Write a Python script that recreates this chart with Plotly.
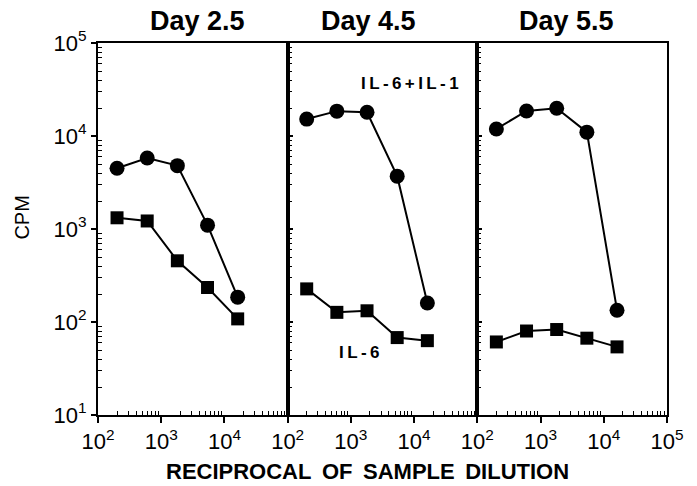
import plotly.graph_objects as go
from plotly.subplots import make_subplots

# Data
dilution = [200, 600, 1800, 5400, 16200]
days = ["Day 2.5", "Day 4.5", "Day 5.5"]
il6_il1 = [
    [4500, 5800, 4800, 1100, 185],
    [15200, 18500, 18000, 3700, 160],
    [11900, 18600, 19900, 11000, 134],
]
il6 = [
    [1320, 1220, 455, 235, 108],
    [227, 127, 132, 68, 63],
    [61, 80, 83, 67, 54],
]
x_tickvals = [1e2, 1e3, 1e4, 1e5]
x_ticktext = ["10<sup>2</sup>", "10<sup>3</sup>", "10<sup>4</sup>", "10<sup>5</sup>"]
y_tickvals = [1e1, 1e2, 1e3, 1e4, 1e5]
y_ticktext = ["10<sup>1</sup>", "10<sup>2</sup>", "10<sup>3</sup>", "10<sup>4</sup>", "10<sup>5</sup>"]

FONT = "Liberation Sans, Arial, Helvetica, sans-serif"

fig = make_subplots(rows=1, cols=3, shared_yaxes=True, horizontal_spacing=0)

for i in range(3):
    fig.add_trace(go.Scatter(
        x=dilution, y=il6_il1[i], mode="lines+markers",
        line=dict(color="black", width=2),
        marker=dict(symbol="circle", size=15, color="black"),
        showlegend=False, cliponaxis=False), row=1, col=i + 1)
    fig.add_trace(go.Scatter(
        x=dilution, y=il6[i], mode="lines+markers",
        line=dict(color="black", width=2),
        marker=dict(symbol="square", size=13, color="black"),
        showlegend=False, cliponaxis=False), row=1, col=i + 1)

minor_x = [m * 10 ** k for k in range(2, 5) for m in range(2, 10)]
minor_y = [m * 10 ** k for k in range(1, 5) for m in range(2, 10)]

for i in range(3):
    tv = x_tickvals if i == 2 else x_tickvals[:3]
    tt = x_ticktext if i == 2 else x_ticktext[:3]
    fig.update_xaxes(
        type="log", range=[2, 5], tickvals=tv, ticktext=tt,
        ticks="outside", ticklen=6, tickwidth=1.5, tickcolor="black",
        minor=dict(tickvals=minor_x, ticks="inside", ticklen=4, tickcolor="black", tickwidth=1),
        showline=True, linecolor="black", linewidth=2, mirror=True,
        showgrid=False, zeroline=False,
        tickfont=dict(family=FONT, size=22, color="black"),
        row=1, col=i + 1)
    fig.update_yaxes(
        type="log", range=[1, 5], tickvals=y_tickvals, ticktext=y_ticktext,
        ticks="outside" if i == 0 else "inside", ticklen=5, tickwidth=1.5, tickcolor="black",
        minor=dict(tickvals=minor_y, ticks="inside", ticklen=4, tickcolor="black", tickwidth=1),
        showline=True, linecolor="black", linewidth=2, mirror=True,
        showgrid=False, zeroline=False, showticklabels=(i == 0),
        tickfont=dict(family=FONT, size=22, color="black"),
        row=1, col=i + 1)

title_x = [0.174, 0.476, 0.823]
for i, d in enumerate(days):
    fig.add_annotation(text="<b>" + d + "</b>", xref="paper", yref="paper",
                       x=title_x[i], y=1.059, xanchor="center", yanchor="middle",
                       showarrow=False,
                       font=dict(family=FONT, size=27, color="black"))

fig.add_annotation(text="<b>I\u2009L\u2009-\u20096\u2009+\u2009I\u2009L\u2009-\u20091</b>",
                   xref="paper", yref="paper", x=0.549, y=0.89,
                   xanchor="center", yanchor="middle", showarrow=False,
                   font=dict(family=FONT, size=17, color="black"))
fig.add_annotation(text="<b>I\u2009L\u2009-\u20096</b>",
                   xref="paper", yref="paper", x=0.459, y=0.169,
                   xanchor="center", yanchor="middle", showarrow=False,
                   font=dict(family=FONT, size=17, color="black"))
fig.add_annotation(text="<b>RECIPROCAL\u2009 OF\u2009 SAMPLE\u2009 DILUTION</b>",
                   xref="paper", yref="paper", x=0.474, y=-0.153,
                   xanchor="center", yanchor="middle", showarrow=False,
                   font=dict(family=FONT, size=22, color="black"))
fig.add_annotation(text="CPM", xref="paper", yref="paper", x=-0.134, y=0.530,
                   xanchor="center", yanchor="middle",
                   textangle=-90, showarrow=False,
                   font=dict(family=FONT, size=20, color="black"))

fig.update_layout(
    width=697, height=486,
    margin=dict(l=98, r=30, t=43, b=71),
    paper_bgcolor="white", plot_bgcolor="white",
    font=dict(family=FONT, color="black"),
)

fig.write_html("out.html")
